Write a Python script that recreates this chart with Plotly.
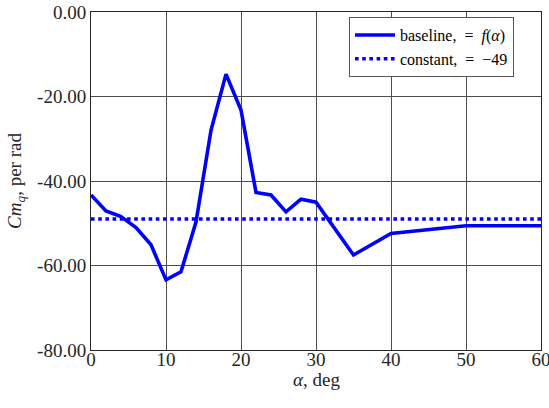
import plotly.graph_objects as go

alpha = [0, 2, 4, 6, 8, 10, 12, 14, 16, 18, 20, 22, 24, 26, 28, 30, 35, 40, 50, 60]
cmq_baseline = [-43.3, -47.1, -48.4, -51.0, -55.1, -63.4, -61.5, -49.7, -28.0, -14.7,
                -23.2, -42.7, -43.3, -47.3, -44.3, -45.0, -57.5, -52.4, -50.6, -50.6]
alpha_const = [0, 60]
cmq_const = [-49, -49]

y_tickvals = [0, -20, -40, -60, -80]
y_ticktext = ["0.00", "-20.00", "-40.00", "-60.00", "-80.00"]
x_tickvals = [0, 10, 20, 30, 40, 50, 60]
x_ticktext = ["0", "10", "20", "30", "40", "50", "60"]

font_fam = "Times New Roman, Liberation Serif, serif"

fig = go.Figure()
fig.add_trace(go.Scatter(x=alpha, y=cmq_baseline, mode="lines",
                         line=dict(color="#0000ff", width=3.6),
                         name="baseline,  =  <i>f</i>(<i>α</i>)"))
fig.add_trace(go.Scatter(x=alpha_const, y=cmq_const, mode="lines",
                         line=dict(color="#0000ff", width=3.6, dash="dot"),
                         name="constant,  =  −49"))

fig.update_layout(
    width=549, height=408,
    margin=dict(l=91, r=8, t=12, b=58),
    paper_bgcolor="white", plot_bgcolor="white",
    font=dict(family=font_fam, size=16, color="#262626"),
    showlegend=True,
    legend=dict(x=0.94, y=0.985, xanchor="right", yanchor="top",
                bgcolor="white", bordercolor="#555555", borderwidth=1,
                font=dict(family=font_fam, size=16, color="black"), tracegroupgap=0,
                itemwidth=40),
    annotations=[dict(text="<i>α</i>, deg", xref="paper", yref="paper", x=0.5, y=-0.0858,
                      xanchor="center", yanchor="middle", showarrow=False,
                      font=dict(family=font_fam, size=19, color="#262626"))],
)
fig.update_xaxes(range=[0, 60], tickvals=x_tickvals, ticktext=x_ticktext, showgrid=True,
                 automargin=False, ticklabeloverflow="allow", ticklabelstandoff=-8,
                 gridcolor="#4d4d4d", gridwidth=1, showline=True, linecolor="#262626",
                 linewidth=1, mirror=True, zeroline=False, ticks="",
                 tickfont=dict(family=font_fam, size=19, color="#262626"))
fig.update_yaxes(range=[-80, 0], tickvals=y_tickvals, ticktext=y_ticktext, showgrid=True,
                 automargin=False, ticklabeloverflow="allow",
                 gridcolor="#4d4d4d", gridwidth=1, showline=True, linecolor="#262626",
                 linewidth=1, mirror=True, zeroline=False, ticks="",
                 tickfont=dict(family=font_fam, size=19, color="#262626"),
                 title=dict(text="<i>Cm<sub>q</sub></i>, per rad", font=dict(family=font_fam, size=19, color="#262626"), standoff=10))

fig.write_html("out.html", config={"displayModeBar": False},
               post_script="document.body.style.margin='0';")
